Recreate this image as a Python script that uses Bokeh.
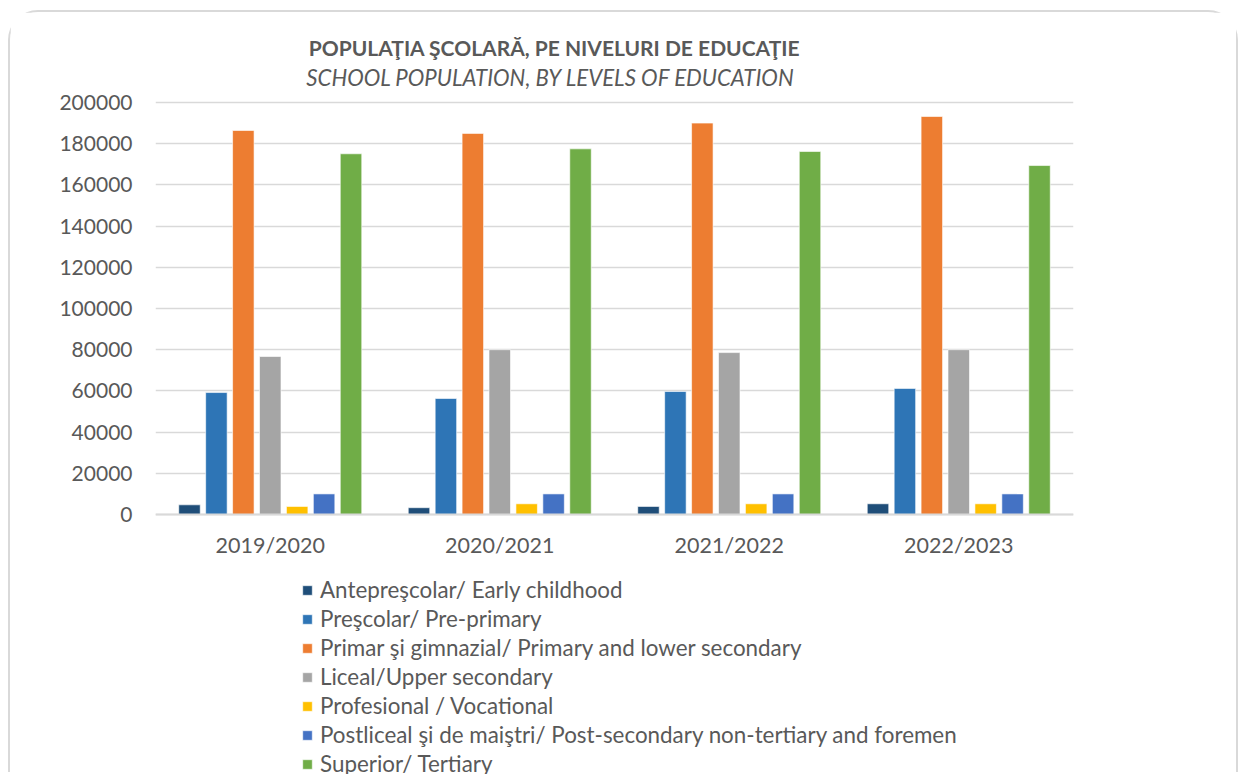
from bokeh.plotting import figure
from bokeh.models import Label, Legend, LegendItem, FixedTicker, NumeralTickFormatter, Range1d
from bokeh.transform import dodge
from bokeh.embed import file_html
from bokeh.resources import INLINE

years = ["2019/2020", "2020/2021", "2021/2022", "2022/2023"]
series_names = [
    "Antepreşcolar/ Early childhood",
    "Preşcolar/ Pre-primary",
    "Primar şi gimnazial/ Primary and lower secondary",
    "Liceal/Upper secondary",
    "Profesional / Vocational",
    "Postliceal şi de maiştri/ Post-secondary non-tertiary and foremen",
    "Superior/ Tertiary",
]
anteprescolar = [4700, 3300, 3900, 5200]
prescolar = [59200, 56300, 59700, 61200]
primar_gimnazial = [186400, 185000, 190000, 193200]
liceal = [76700, 80000, 78600, 80000]
profesional = [3900, 5200, 5200, 5200]
postliceal = [10000, 10000, 10000, 10000]
superior = [175100, 177500, 176200, 169400]
colors = ["#1F4E79", "#2E75B6", "#ED7D31", "#A5A5A5", "#FFC000", "#4472C4", "#70AD47"]
y_ticks = list(range(0, 200001, 20000))

all_series = [anteprescolar, prescolar, primar_gimnazial, liceal, profesional, postliceal, superior]

FONT = "Lato"
GREY = "#595959"

# frame spans the whole canvas height; the value axis occupies 412 px for 0..200000
p = figure(x_range=years, width=1230, height=762, output_backend="svg",
           toolbar_location=None, min_border_left=145, min_border_right=167,
           min_border_top=0, min_border_bottom=0)
p.y_range = Range1d(-126214, 243689)
p.outline_line_color = None
p.background_fill_color = "white"
p.border_fill_color = "white"
p.styles = {"border": "2px solid #d9d9d9", "border-bottom": "none",
            "border-top-left-radius": "30px", "border-top-right-radius": "30px",
            "margin-left": "8px", "margin-top": "10px"}

data = {"year": years}
for i, s in enumerate(all_series):
    data[f"s{i}"] = s

pitch = 0.1173
width = 0.0936
items = []
for i, s in enumerate(all_series):
    r = p.vbar(x=dodge("year", (i - 3) * pitch, range=p.x_range), top=f"s{i}", width=width,
               source=data, fill_color=colors[i], line_color="white", line_alpha=0.6, line_width=1)
    items.append(LegendItem(label=series_names[i], renderers=[r]))

p.xgrid.grid_line_color = None
p.ygrid.grid_line_color = "#d9d9d9"
p.ygrid.grid_line_width = 1.5

p.yaxis.ticker = FixedTicker(ticks=y_ticks)
p.yaxis.formatter = NumeralTickFormatter(format="0")
p.yaxis.axis_line_color = None
p.yaxis.major_tick_line_color = None
p.yaxis.minor_tick_line_color = None
p.yaxis.major_label_standoff = 17
p.yaxis.major_label_text_font = FONT
p.yaxis.major_label_text_font_size = "21px"
p.yaxis.major_label_text_color = GREY

p.xaxis.fixed_location = 0
p.xaxis.axis_line_color = "#d9d9d9"
p.xaxis.axis_line_width = 2
p.xaxis.major_tick_line_color = None
p.xaxis.minor_tick_line_color = None
p.xaxis.major_label_standoff = 12
p.xaxis.major_label_text_font = FONT
p.xaxis.major_label_text_font_size = "21.5px"
p.xaxis.major_label_text_color = GREY

legend = Legend(items=items, location=(146, -4), orientation="vertical")
legend.label_text_font = FONT
legend.label_text_font_size = "22.4px"
legend.label_text_color = GREY
legend.glyph_width = 12
legend.glyph_height = 12
legend.label_height = 29
legend.spacing = 0
legend.padding = 0
legend.margin = 0
legend.label_standoff = 7
legend.border_line_color = None
legend.background_fill_alpha = 0
p.add_layout(legend, "center")

main = Label(x=399, y=727, x_units="screen", y_units="screen",
             text="POPULAŢIA ŞCOLARĂ, PE NIVELURI DE EDUCAŢIE",
             text_font=FONT, text_font_style="bold", text_font_size="21px",
             text_color=GREY, text_align="center", text_baseline="middle")
sub = Label(x=398, y=697, x_units="screen", y_units="screen",
            text="SCHOOL  POPULATION, BY LEVELS OF EDUCATION",
            text_font=FONT, text_font_style="italic", text_font_size="22.2px",
            text_color=GREY, text_align="center", text_baseline="middle")
p.add_layout(main)
p.add_layout(sub)

open("out.html", "w").write(file_html(p, INLINE))
